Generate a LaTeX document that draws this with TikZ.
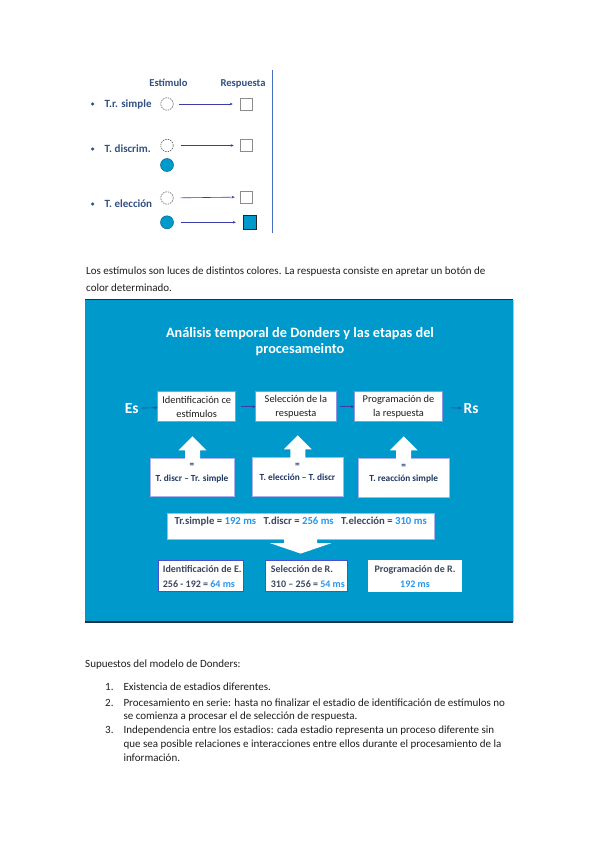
\documentclass[tikz,border=0pt]{standalone}
\usepackage{fontspec}
\setmainfont{Carlito}
\usetikzlibrary{arrows.meta,calc}
\definecolor{bgblue}{RGB}{0,153,204}
\definecolor{navy}{RGB}{31,56,100}
\definecolor{lab}{RGB}{50,80,130}
\definecolor{val}{RGB}{40,150,240}
\definecolor{arrc}{RGB}{60,60,170}
\definecolor{boxb}{RGB}{70,80,210}
\definecolor{txt}{RGB}{30,30,30}
\definecolor{grt}{RGB}{60,72,95}
\definecolor{vlin}{RGB}{70,110,190}
\definecolor{darkedge}{RGB}{30,50,70}
\tikzset{
  hdr/.style={font=\bfseries\fontsize{10.6}{12}\selectfont, text=lab, inner sep=0, anchor=base},
  lbl/.style={font=\bfseries\fontsize{11}{12}\selectfont, text=lab, anchor=base west, inner sep=0},
  bul/.style={circle, fill=lab, inner sep=0, minimum size=3.5},
  stimoff/.style={circle, draw=black!70, dash pattern=on 1.5pt off 1pt, minimum size=12.5, inner sep=0, line width=0.5},
  stimon/.style={circle, draw=bgblue!70!black, fill=bgblue, minimum size=13, inner sep=0, line width=0.5},
  respoff/.style={rectangle, draw=black!45, minimum size=12, inner sep=0, line width=0.5},
  respon/.style={rectangle, draw=black!85, fill=bgblue, minimum size=13.5, inner sep=0, line width=0.8},
  sarr/.style={draw=arrc, line width=0.6, -{Stealth[length=3pt,width=2.6pt]}, shorten <=5, shorten >=7},
  body/.style={font=\fontsize{11}{12}\selectfont, text=txt, anchor=base west, inner sep=0},
  panel/.style={fill=bgblue, minimum width=428, minimum height=322, inner sep=0},
  ttl/.style={font=\bfseries\fontsize{14.3}{16.7}\selectfont, text=white, align=center, inner sep=0},
  big/.style={font=\bfseries\fontsize{15.5}{17}\selectfont, text=white, inner sep=0},
  stage/.style={draw=boxb!60, line width=0.6, fill=white, align=center, font=\fontsize{10.4}{13.6}\selectfont, text=txt, inner sep=0, minimum height=30},
  flow/.style={draw=arrc, line width=0.6, -{Stealth[length=3pt,width=3pt]}},
  ubox/.style={draw=boxb!45, fill=white, line width=0.6, inner sep=0},
  utxt/.style={font=\bfseries\fontsize{9.3}{13.3}\selectfont, text=navy, align=center, inner sep=0},
  rtxt/.style={font=\bfseries\fontsize{10.7}{12}\selectfont, text=grt, inner sep=0},
  bbox/.style={draw=boxb, fill=white, line width=0.8, inner sep=0, minimum height=31},
  btxt/.style={font=\bfseries\fontsize{10}{11}\selectfont, text=grt, inner sep=0, anchor=base west},
}
\begin{document}
\begin{tikzpicture}[x=1pt,y=-1pt]
\useasboundingbox (0,0) rectangle (599,848);
\fill[white] (0,0) rectangle (599,848);

% ---------- top diagram ----------
\node[hdr] (hst) at (168.5,86.3) {Estímulo};
\node[hdr] (hrs) at (243,86.3) {Respuesta};
\coordinate (vt) at (272.5,70);
\coordinate (vb) at (272.5,233);
\draw[vlin, line width=1] (vt) -- (vb);

\node[bul] (b1) at (92.7,104) {};
\node[bul] (b2) at (92.7,149) {};
\node[bul] (b3) at (92.7,204) {};
\node[lbl] (l1) at (104.5,107.8) {T.r. simple};
\node[lbl] (l2) at (104.5,152.8) {T. discrim.};
\node[lbl] (l3) at (104.5,207.8) {T. elección};

\node[stimoff] (s1) at (167,104) {};
\node[respoff] (r1) at (246,104) {};
\draw[sarr] (s1) -- (r1);

\node[stimoff] (s2) at (167,145.5) {};
\node[stimon] (s2b) at (167,165) {};
\node[respoff] (r2) at (246,145.5) {};
\draw[sarr, shorten <=7, shorten >=6] (s2) -- (r2);

\node[stimoff] (s3) at (167,198) {};
\node[stimon] (s3b) at (167,222.3) {};
\node[respoff] (r3) at (246,197) {};
\node[respon] (r3b) at (250,222.3) {};
\draw[sarr, shorten <=7, shorten >=5] (s3) -- (r3);
\draw[sarr, shorten <=7, shorten >=7] (s3b) -- (r3b);

% ---------- paragraph ----------
\node[body] (p1) at (86,274.8) {Los estímulos son luces de distintos colores. La respuesta consiste en apretar un botón de};
\node[body] (p2) at (86,291.8) {color determinado.};

% ---------- blue panel ----------
\node[panel] (panel) at (299,461) {};
\draw[darkedge, line width=1.2] (panel.north west) -- (panel.north east);
\draw[darkedge, line width=1.8] (panel.south west) -- (panel.south east);
\draw[black!25, line width=0.8] (panel.north east) -- (panel.south east);

\node[ttl] (title) at (300,341.7) {Análisis temporal de Donders y las etapas del\\procesameinto};

\node[big] (es) at (131.7,408.3) {Es};
\node[big] (rs) at (471,408.3) {Rs};
\node[stage, minimum width=78] (st1) at (196.7,406.7) {Identificación ce\\estímulos};
\node[stage, minimum width=80.3] (st2) at (295.9,406.7) {Selección de la\\respuesta};
\node[stage, minimum width=88.4] (st3) at (398.5,406.7) {Programación de\\la respuesta};
\draw[flow, shorten <=3] (es) -- (st1);
\draw[flow, shorten <=5] (st1) -- (st2);
\draw[flow, shorten <=4] (st2) -- (st3);
\draw[flow, shorten <=7, shorten >=2] (st3) -- (rs);

% up arrow boxes
\node[ubox, minimum width=83.6, minimum height=38.4] (u1) at (192.5,477.5) {};
\node[ubox, minimum width=91, minimum height=39.4] (u2) at (297.8,477) {};
\node[ubox, minimum width=90.7, minimum height=39] (u3) at (403.7,477.8) {};
\foreach \n in {u1,u2,u3}{
  \fill[white] ($(\n.north)+(-7.5,0.8)$) -- ($(\n.north)+(-7.5,-7.6)$) -- ($(\n.north)+(-14,-7.6)$)
    -- ($(\n.north)+(0,-21.6)$) -- ($(\n.north)+(14,-7.6)$) -- ($(\n.north)+(7.5,-7.6)$)
    -- ($(\n.north)+(7.5,0.8)$) -- cycle;
}
\node[utxt] (u1t) at (192,473.3) {=\\T. discr – Tr. simple};
\node[utxt] (u2t) at (297.5,472.3) {=\\T. elección – T. discr};
\node[utxt] (u3t) at (403.7,474) {=\\T. reacción simple};

% results box with down arrow
\node[ubox, minimum width=266.7, minimum height=26] (res) at (300.7,526.3) {};
\fill[white] ($(res.south)+(-16.5,-0.8)$) -- ($(res.south)+(-16.5,3.4)$) -- ($(res.south)+(-31,3.4)$)
  -- ($(res.south)+(0,14)$) -- ($(res.south)+(31,3.4)$) -- ($(res.south)+(16.5,3.4)$)
  -- ($(res.south)+(16.5,-0.8)$) -- cycle;
\node[rtxt] (rest) at (300.7,521.7) {Tr.simple = \textcolor{val}{192 ms}\hspace{0.7em}T.discr = \textcolor{val}{256 ms}\hspace{0.7em}T.elección = \textcolor{val}{310 ms}};

% bottom result boxes
\node[bbox, minimum width=85] (ra) at (200.8,576.2) {};
\node[bbox, minimum width=82] (rb) at (306.7,576.2) {};
\node[bbox, draw=white, minimum width=93.4] (rc) at (415,576) {};
\node[btxt] (rat) at (162.7,572.6) {Identificación de E.};
\node[btxt] (rav) at (162.7,587.3) {256 - 192 = \textcolor{val}{64 ms}};
\node[btxt] (rbt) at (270.7,572.6) {Selección de R.};
\node[btxt] (rbv) at (270.7,587.3) {310 – 256 = \textcolor{val}{54 ms}};
\node[btxt, anchor=base] (rct) at (415,572.6) {Programación de R.};
\node[btxt, anchor=base, text=val] (rcv) at (415,587.3) {192 ms};

% ---------- assumptions ----------
\node[body] (sup) at (85,667.2) {Supuestos del modelo de Donders:};
\node[body] (n1) at (105,690.4) {1.};
\node[body] (i1) at (123.3,690.4) {Existencia de estadios diferentes.};
\node[body] (n2) at (105,706) {2.};
\node[body] (i2a) at (123.3,706) {Procesamiento en serie: hasta no finalizar el estadio de identificación de estímulos no};
\node[body] (i2b) at (123.3,719.4) {se comienza a procesar el de selección de respuesta.};
\node[body] (n3) at (105,733) {3.};
\node[body] (i3a) at (123.3,733) {Independencia entre los estadios: cada estadio representa un proceso diferente sin};
\node[body] (i3b) at (123.3,747) {que sea posible relaciones e interacciones entre ellos durante el procesamiento de la};
\node[body] (i3c) at (123.3,761.4) {información.};
\end{tikzpicture}
\end{document}
